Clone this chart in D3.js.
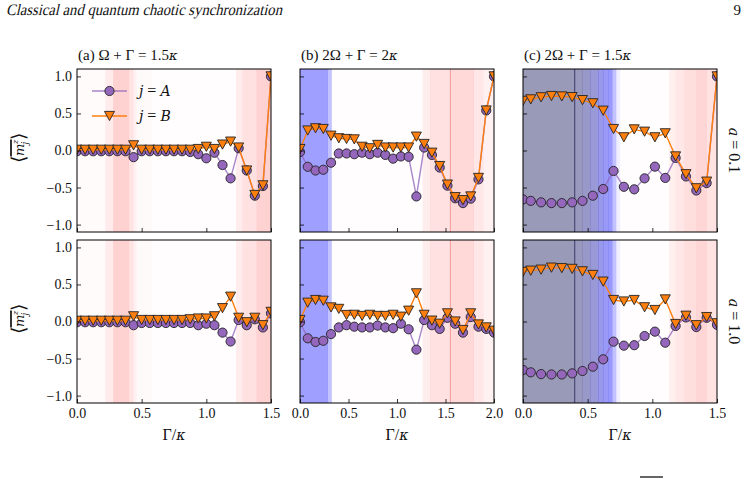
<!DOCTYPE html>
<html>
<head>
<meta charset="utf-8">
<script src="https://d3js.org/d3.v7.min.js"></script>
<style>
body { margin: 0; background: #fff; }
text { font-family: "Liberation Serif", serif; fill: #111; }
.it { font-family: "DejaVu Serif", serif; font-style: italic; }
</style>
</head>
<body>
<script>
// ---- data ----
var gammaA = [0, 0.0625, 0.125, 0.1875, 0.25, 0.3125, 0.375, 0.4375, 0.5, 0.5625, 0.625, 0.6875, 0.75,
              0.8125, 0.875, 0.9375, 1.0, 1.0625, 1.125, 1.1875, 1.25, 1.3125, 1.375, 1.4375, 1.5];
var gammaB = [0, 0.08, 0.16, 0.24, 0.32, 0.4, 0.48, 0.56, 0.64, 0.72, 0.8, 0.88, 0.96,
              1.04, 1.12, 1.2, 1.28, 1.36, 1.44, 1.52, 1.6, 1.68, 1.76, 1.84, 1.92, 2.0];
var gammaC = [0, 0.06, 0.14, 0.22, 0.3, 0.38, 0.46, 0.54, 0.62, 0.7, 0.78, 0.86, 0.94,
              1.02, 1.1, 1.18, 1.26, 1.34, 1.42, 1.5];

// panel (a)
var aTopA = [-0.01, -0.01, -0.01, -0.01, -0.01, -0.01, -0.01, -0.09, -0.01, -0.01, -0.01, -0.01, -0.01,
             -0.01, -0.02, -0.05, -0.105, -0.03, -0.196, -0.376, 0.03, -0.27, -0.61, -0.48, 1.0];
var aTopB = [0.01, 0.01, 0.01, 0.01, 0.01, 0.01, 0.01, 0.07, 0.01, 0.01, 0.01, 0.01, 0.01,
             0.01, 0.01, 0.02, 0.05, 0.02, 0.08, 0.12, 0.04, -0.27, -0.6, -0.47, 1.0];
var aBotA = [-0.01, -0.01, -0.01, -0.01, -0.01, -0.01, -0.01, -0.05, -0.02, -0.02, -0.02, -0.02, -0.02,
             -0.02, -0.02, -0.05, -0.03, -0.05, -0.15, -0.27, 0.02, -0.05, 0.03, -0.08, 0.11];
var aBotB = [0.01, 0.01, 0.01, 0.01, 0.01, 0.01, 0.01, 0.07, 0.02, 0.02, 0.02, 0.02, 0.02,
             0.02, 0.03, 0.04, 0.04, 0.07, 0.18, 0.335, 0.05, -0.01, 0.05, -0.05, 0.13];
// panel (b)
var bTopA = [-0.02, -0.22, -0.27, -0.26, -0.165, -0.04, -0.04, -0.05, -0.03, -0.05, -0.03, -0.06, -0.11,
             -0.08, -0.085, -0.62, 0.04, -0.06, -0.23, -0.475, -0.645, -0.71, -0.65, -0.39, 0.54, 1.0];
var bTopB = [0.02, 0.27, 0.3, 0.29, 0.2, 0.165, 0.155, 0.15, 0.05, 0.03, 0.075, 0.04, 0.04,
             0.04, 0.04, 0.187, 0.088, -0.03, -0.21, -0.46, -0.63, -0.67, -0.62, -0.37, 0.54, 1.0];
var bBotA = [-0.01, -0.227, -0.276, -0.26, -0.17, -0.08, -0.05, -0.07, -0.08, -0.08, -0.055, -0.08, -0.09,
             -0.03, -0.105, -0.38, 0.02, -0.05, -0.1, 0.05, -0.03, -0.15, 0.06, -0.07, -0.1, -0.15];
var bBotB = [0.02, 0.254, 0.29, 0.28, 0.19, 0.17, 0.088, 0.09, 0.075, 0.09, 0.075, 0.075, 0.09,
             0.065, 0.146, 0.38, 0.09, 0.012, -0.03, 0.11, 0.0, -0.115, 0.11, -0.04, -0.08, -0.125];
// panel (c)
var cTopA = [-0.66, -0.68, -0.7, -0.71, -0.71, -0.7, -0.68, -0.61, -0.52, -0.276, -0.49, -0.524, -0.376,
             -0.218, -0.37, -0.1, -0.35, -0.54, -0.44, 1.0];
var cTopB = [0.67, 0.69, 0.718, 0.735, 0.73, 0.72, 0.68, 0.637, 0.537, 0.29, 0.178, 0.285, 0.254,
             0.178, 0.232, -0.08, -0.32, -0.51, -0.42, 1.0];
var cBotA = [-0.654, -0.686, -0.71, -0.715, -0.715, -0.7, -0.668, -0.61, -0.51, -0.272, -0.326, -0.32, -0.196,
             -0.137, -0.286, -0.06, 0.055, -0.075, 0.05, -0.045];
var cBotB = [0.67, 0.686, 0.7, 0.727, 0.72, 0.71, 0.677, 0.628, 0.538, 0.29, 0.27, 0.29, 0.192,
             0.155, 0.298, -0.034, 0.078, -0.05, 0.06, -0.024];

// background stripes (edges in Gamma/kappa, colour value on a seismic scale)
var bgEdgesA = [0, 0.22, 0.28, 0.40, 0.435, 0.46, 0.58, 1.23, 1.28, 1.39, 1.5];
var bgValsA  = [0.02, 0.1, 0.22, 0.14, 0.07, 0.025, 0.01, 0.09, 0.15, 0.22];
var bgEdgesB = [0, 0.285, 0.326, 1.265, 1.34, 1.55, 1.79, 1.89, 2.0];
var bgValsB  = [-0.47, -0.3, 0.01, 0.09, 0.15, 0.19, 0.12, 0.07];
var bgEdgesC = [0, 0.40, 0.46, 0.52, 0.58, 0.62, 0.66, 0.69, 0.72, 0.75, 1.13, 1.18, 1.25, 1.34, 1.42, 1.5];
var bgValsC  = [-1, -0.96, -0.88, -0.78, -0.64, -0.56, -0.5, -0.3, -0.08, 0.01, 0.08, 0.12, 0.16, 0.2, 0.14];
var vlines = [null, 1.55, 0.4];

var xTicksA = [0, 0.5, 1.0, 1.5], xTicksB = [0, 0.5, 1.0, 1.5, 2.0], xTicksC = [0, 0.5, 1.0, 1.5];
var yTicks = [-1.0, -0.5, 0.0, 0.5, 1.0];
var titleTags = ["(a)", "(b)", "(c)"];
var titleMath = ["Ω + Γ = 1.5", "2Ω + Γ = 2", "2Ω + Γ = 1.5"];
var rowValues = ["0.1", "1.0"];
var seriesNames = ["A", "B"];

// ---- layout ----
var w = 751, h = 479;
var svg = d3.select("body").append("svg").attr("width", w).attr("height", h);

var cols = [
    { x0: 77, x1: 271, dom: [0, 1.5], gam: gammaA, ticks: xTicksA, bgE: bgEdgesA, bgV: bgValsA, data: [[aTopA, aTopB], [aBotA, aBotB]] },
    { x0: 300, x1: 494, dom: [0, 2.0], gam: gammaB, ticks: xTicksB, bgE: bgEdgesB, bgV: bgValsB, data: [[bTopA, bTopB], [bBotA, bBotB]] },
    { x0: 523, x1: 717, dom: [0, 1.5], gam: gammaC, ticks: xTicksC, bgE: bgEdgesC, bgV: bgValsC, data: [[cTopA, cTopB], [cBotA, cBotB]] }
];
var rows = [{ y0: 69, y1: 232 }, { y0: 240, y1: 403 }];

var seismic = d3.scaleLinear().domain([-1, -0.5, 0, 0.5, 1])
    .range(["#00004d", "#0000ff", "#ffffff", "#ff0000", "#800000"]);
var vlineColor = [null, "#f09a9a", "#404070"];
var colA = "#9467bd", colB = "#ff7f0e";
var tri = "M-5,-4.6L5,-4.6L0,4.6Z";

// header (slanted serif, the italic face of Liberation Serif is not available)
svg.append("text").attr("transform", "translate(6,15) skewX(-13)").attr("font-size", 16)
    .attr("textLength", 276).attr("lengthAdjust", "spacingAndGlyphs")
    .text("Classical and quantum chaotic synchronization");
svg.append("text").attr("x", 741).attr("y", 15).attr("font-size", 15).attr("text-anchor", "end").text("9");

cols.forEach(function(c, ci) {
    var x = d3.scaleLinear().domain(c.dom).range([c.x0, c.x1]);

    // title
    var t = svg.append("text").attr("x", c.x0 + 1).attr("y", 60).attr("font-size", 15);
    t.append("tspan").text(titleTags[ci] + " " + titleMath[ci]);
    t.append("tspan").attr("class", "it").attr("font-size", 13).text("κ");

    rows.forEach(function(r, ri) {
        var y = d3.scaleLinear().domain([-1.1, 1.1]).range([r.y1, r.y0]);
        var id = "clip" + ci + ri;
        svg.append("clipPath").attr("id", id).append("rect")
            .attr("x", c.x0).attr("y", r.y0).attr("width", c.x1 - c.x0).attr("height", r.y1 - r.y0);
        var g = svg.append("g").attr("clip-path", "url(#" + id + ")");

        // background stripes
        g.selectAll(".bg").data(c.bgV).enter().append("rect")
            .attr("x", function(d, i) { return x(c.bgE[i]); })
            .attr("width", function(d, i) { return x(c.bgE[i + 1]) - x(c.bgE[i]) + 0.3; })
            .attr("y", r.y0).attr("height", r.y1 - r.y0)
            .attr("fill", function(d) { return seismic(d); })
            .attr("fill-opacity", 0.4);

        if (vlines[ci] != null) {
            g.append("line").attr("x1", x(vlines[ci])).attr("x2", x(vlines[ci]))
                .attr("y1", r.y0).attr("y2", r.y1)
                .attr("stroke", vlineColor[ci]).attr("stroke-width", 1);
        }

        // series
        [colA, colB].forEach(function(col, si) {
            var vals = c.data[ri][si];
            var pts = c.gam.map(function(gm, i) { return [gm, vals[i]]; });
            var line = d3.line().x(function(d) { return x(d[0]); }).y(function(d) { return y(d[1]); });
            g.append("path").attr("d", line(pts)).attr("fill", "none")
                .attr("stroke", col).attr("stroke-width", 1.4).attr("stroke-opacity", si == 0 ? 0.8 : 1);
            if (si == 0) {
                g.selectAll(".mA").data(pts).enter().append("circle")
                    .attr("cx", function(d) { return x(d[0]); })
                    .attr("cy", function(d) { return y(d[1]); })
                    .attr("r", 4.6).attr("fill", col).attr("stroke", "#222").attr("stroke-width", 0.9);
            } else {
                g.selectAll(".mB").data(pts).enter().append("path")
                    .attr("d", tri)
                    .attr("transform", function(d) { return "translate(" + x(d[0]) + "," + y(d[1]) + ")"; })
                    .attr("fill", col).attr("stroke", "#222").attr("stroke-width", 0.9);
            }
        });

        // frame
        svg.append("rect").attr("x", c.x0).attr("y", r.y0)
            .attr("width", c.x1 - c.x0).attr("height", r.y1 - r.y0)
            .attr("fill", "none").attr("stroke", "#000").attr("stroke-width", 1);

        // axes
        var ay = svg.append("g").attr("transform", "translate(" + c.x0 + ",0)")
            .call(d3.axisLeft(y).tickValues(yTicks).tickSizeInner(-4).tickSizeOuter(0).tickPadding(5)
                .tickFormat(ci == 0 ? d3.format(".1f") : ""));
        var ax = svg.append("g").attr("transform", "translate(0," + r.y1 + ")")
            .call(d3.axisBottom(x).tickValues(c.ticks).tickSizeInner(-4).tickSizeOuter(0).tickPadding(5)
                .tickFormat(ri == 1 ? d3.format(".1f") : ""));
        [ay, ax].forEach(function(a) {
            a.select(".domain").remove();
            a.selectAll("line").attr("stroke", "#000").attr("stroke-width", 0.8);
            a.selectAll("text").attr("font-size", 14).attr("fill", "#111");
        });

        if (ri == 1) {
            var xl = svg.append("text").attr("x", (c.x0 + c.x1) / 2).attr("y", 440)
                .attr("text-anchor", "middle").attr("font-size", 16);
            xl.append("tspan").text("Γ/");
            xl.append("tspan").attr("class", "it").attr("font-size", 14).text("κ");
        }
    });
});

// y labels  <m_j^z> with overline
rows.forEach(function(r) {
    var g = svg.append("g").attr("transform", "translate(19," + ((r.y0 + r.y1) / 2 - 2) + ") rotate(-90)");
    g.append("text").attr("x", -14).attr("y", 6).attr("font-size", 19).attr("font-family", "DejaVu Serif, serif").text("⟨");
    g.append("text").attr("class", "it").attr("x", -7.5).attr("y", 5).attr("font-size", 13).text("m");
    g.append("text").attr("class", "it").attr("x", 4).attr("y", 8.5).attr("font-size", 8.5).text("j");
    g.append("text").attr("class", "it").attr("x", 4.5).attr("y", -1).attr("font-size", 8).text("z");
    g.append("text").attr("x", 9).attr("y", 6).attr("font-size", 19).attr("font-family", "DejaVu Serif, serif").text("⟩");
    g.append("line").attr("x1", -8).attr("x2", 9).attr("y1", -8).attr("y2", -8)
        .attr("stroke", "#000").attr("stroke-width", 1.6);
});

// row labels on the right: a = 0.1 / a = 1.0
rows.forEach(function(r, ri) {
    var t = svg.append("text")
        .attr("transform", "translate(729," + ((r.y0 + r.y1) / 2) + ") rotate(90)")
        .attr("text-anchor", "middle").attr("font-size", 16);
    t.append("tspan").attr("class", "it").attr("font-size", 14).text("a");
    t.append("tspan").text(" = " + rowValues[ri]);
});

// legend in panel (a)
var lg = svg.append("g");
seriesNames.forEach(function(nm, i) {
    var ly = 91 + i * 25;
    lg.append("line").attr("x1", 92).attr("x2", 127).attr("y1", ly).attr("y2", ly)
        .attr("stroke", i == 0 ? colA : colB).attr("stroke-width", 1.4).attr("stroke-opacity", i == 0 ? 0.8 : 1);
    if (i == 0) {
        lg.append("circle").attr("cx", 109.5).attr("cy", ly).attr("r", 4.6)
            .attr("fill", colA).attr("stroke", "#222").attr("stroke-width", 0.9);
    } else {
        lg.append("path").attr("d", tri).attr("transform", "translate(109.5," + ly + ")")
            .attr("fill", colB).attr("stroke", "#222").attr("stroke-width", 0.9);
    }
    var t = lg.append("text").attr("x", 139).attr("y", ly + 5).attr("font-size", 16);
    t.append("tspan").attr("class", "it").attr("font-size", 14).text("j");
    t.append("tspan").text(" = ");
    t.append("tspan").attr("class", "it").attr("font-size", 14).text(nm);
});

// fragment of the caption's overline at the bottom edge
svg.append("line").attr("x1", 640).attr("x2", 663).attr("y1", 477).attr("y2", 477)
    .attr("stroke", "#000").attr("stroke-width", 1.2);
</script>
</body>
</html>
